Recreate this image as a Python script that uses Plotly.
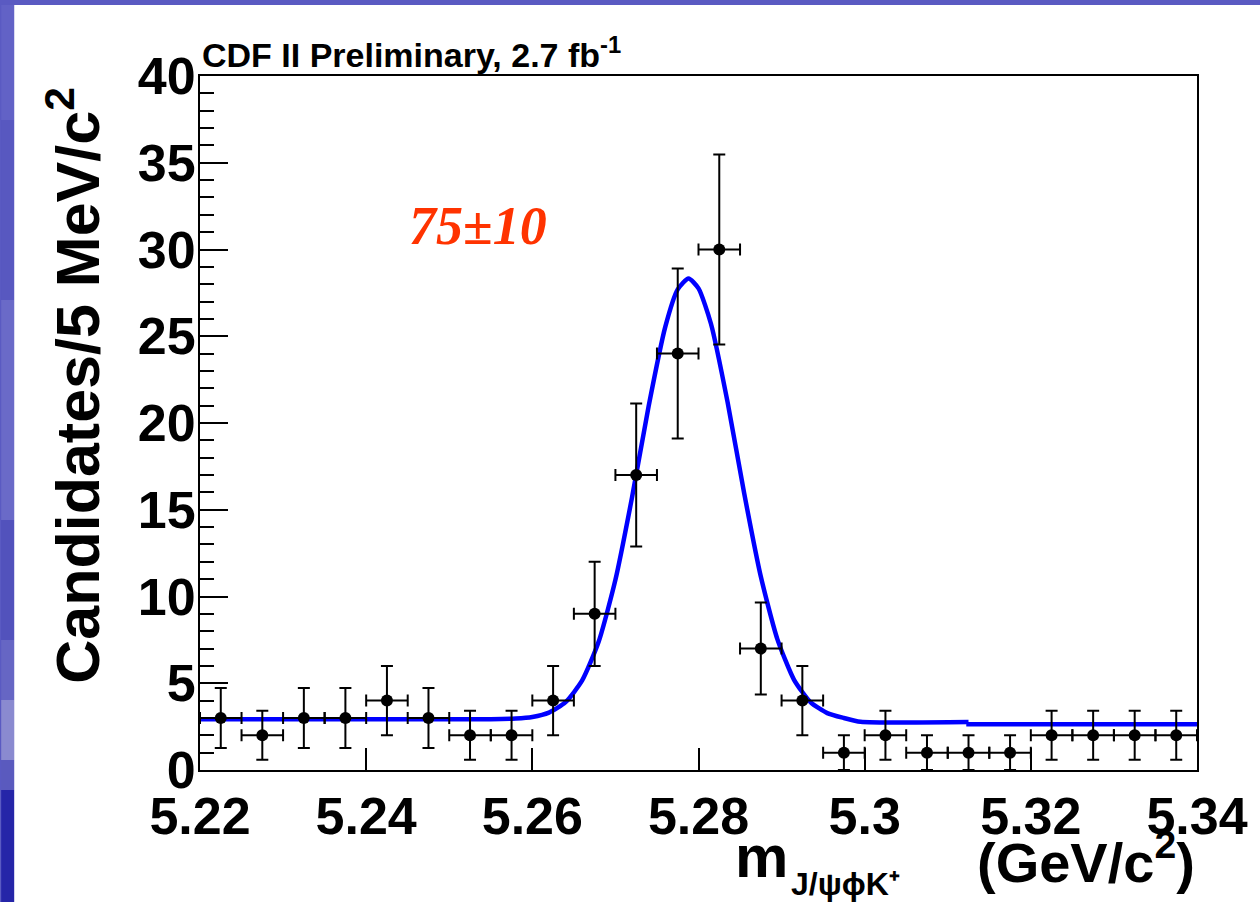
import plotly.graph_objects as go

# ---- data ----
mass = [5.2225, 5.2275, 5.2325, 5.2375, 5.2425, 5.2475, 5.2525, 5.2575,
        5.2625, 5.2675, 5.2725, 5.2775, 5.2825, 5.2875, 5.2925, 5.2975,
        5.3025, 5.3075, 5.3125, 5.3175, 5.3225, 5.3275, 5.3325, 5.3375]
counts = [3, 2, 3, 3, 4, 3, 2, 2, 4, 9, 17, 24, 30, 7, 4, 1, 2, 1, 1, 1, 2, 2, 2, 2]
count_err = [1.73, 1.41, 1.73, 1.73, 2.0, 1.73, 1.41, 1.41, 2.0, 3.0, 4.12, 4.9,
             5.48, 2.65, 2.0, 1.0, 1.41, 1.0, 1.0, 1.0, 1.41, 1.41, 1.41, 1.41]
bin_halfwidth = [0.0025] * 24

fit_x = [5.22, 5.255, 5.258, 5.260, 5.262, 5.264, 5.266, 5.268, 5.270, 5.272,
         5.274, 5.276, 5.2775, 5.2788, 5.2800, 5.2815, 5.2835, 5.2855, 5.2875,
         5.2895, 5.2915, 5.2935, 5.2955, 5.2975, 5.2995, 5.3125]
fit_y = [2.93, 2.93, 2.97, 3.06, 3.31, 3.91, 5.16, 7.42, 10.96, 15.71,
         20.97, 25.54, 27.7, 28.33, 27.76, 25.72, 21.2, 15.94, 11.15,
         7.53, 5.2, 3.9, 3.28, 3.0, 2.78, 2.76]
tail_x = [5.3125, 5.3125, 5.34]
tail_y = [2.76, 2.64, 2.64]

x_ticks = [5.22, 5.24, 5.26, 5.28, 5.30, 5.32, 5.34]
x_ticktext = ["5.22", "5.24", "5.26", "5.28", "5.3", "5.32", "5.34"]
y_ticks = [0, 5, 10, 15, 20, 25, 30, 35, 40]

SANS = "Liberation Sans, Arial, Helvetica, sans-serif"

fig = go.Figure()
fig.add_trace(go.Scatter(x=fit_x, y=fit_y, mode="lines",
                         line=dict(color="#0000ff", width=4.5, shape="spline", smoothing=0.6),
                         showlegend=False, hoverinfo="skip"))
fig.add_trace(go.Scatter(x=tail_x, y=tail_y, mode="lines",
                         line=dict(color="#0000ff", width=4.5),
                         showlegend=False, hoverinfo="skip"))
fig.add_trace(go.Scatter(
    x=mass, y=counts, mode="markers",
    marker=dict(color="black", size=12),
    error_y=dict(type="data", array=count_err, color="black", thickness=2, width=6),
    error_x=dict(type="data", array=bin_halfwidth, color="black", thickness=2, width=6),
    showlegend=False))

W, H = 1260, 902
L, R, T, B = 200, 57, 76, 132
pw, ph = W - L - R, H - T - B

def px(xp):
    return (xp - L) / pw

def py(yp):
    return (H - B - yp) / ph

shapes = [
    dict(type="rect", xref="paper", yref="paper", x0=px(13), x1=px(1270),
         y0=py(910), y1=py(5), fillcolor="white", line=dict(width=0), layer="below"),
]
# left slide strip shading
strip = [(5, 120, "#6262c6"), (120, 300, "#5858c0"), (300, 520, "#6a6ac8"),
         (520, 640, "#5252bc"), (640, 700, "#6666c4"), (700, 760, "#8a8ad0"),
         (760, 790, "#5a5abe"), (790, 902, "#2525a8")]
for y0, y1, c in strip:
    shapes.append(dict(type="rect", xref="paper", yref="paper", x0=px(0), x1=px(13),
                       y0=py(y1), y1=py(y0), fillcolor=c, line=dict(width=0), layer="below"))

annotations = [
    dict(text="CDF II Preliminary, 2.7 fb<sup>-1</sup>", xref="paper", yref="paper",
         x=0, y=1, xanchor="left", yanchor="bottom", showarrow=False,
         font=dict(family=SANS, size=34, color="black", weight="bold")),
    dict(text="Candidates/5 MeV/c<sup>2</sup>", xref="paper", yref="paper",
         x=px(73), y=py(385), xanchor="center", yanchor="middle", textangle=-90,
         showarrow=False, font=dict(family=SANS, size=61, color="black", weight="bold")),
    dict(text="m", xref="paper", yref="paper", x=px(765), y=py(856),
         xanchor="center", yanchor="middle", showarrow=False,
         font=dict(family=SANS, size=60, color="black", weight="bold")),
    dict(text="J/ψϕK⁺", xref="paper", yref="paper", x=px(793), y=py(884),
         xanchor="left", yanchor="middle", showarrow=False,
         font=dict(family=SANS, size=32, color="black", weight="bold")),
    dict(text="(GeV/c<sup>2</sup>)", xref="paper", yref="paper", x=px(1203), y=py(858),
         xanchor="right", yanchor="middle", showarrow=False,
         font=dict(family=SANS, size=56, color="black", weight="bold")),
    dict(text="75±10", xref="paper", yref="paper", x=px(480), y=py(226),
         xanchor="center", yanchor="middle", showarrow=False,
         font=dict(family="Liberation Serif, Times New Roman, serif", size=54,
                   color="#ff3300", weight="bold", style="italic")),
]

fig.update_layout(
    width=W, height=H,
    margin=dict(l=L, r=R, t=T, b=B, pad=0),
    paper_bgcolor="#5a5ac2", plot_bgcolor="white",
    shapes=shapes, annotations=annotations,
    xaxis=dict(range=[5.22, 5.34], tickvals=x_ticks, ticktext=x_ticktext,
               ticks="inside", ticklen=22, tickwidth=2, tickcolor="black",
               showline=True, linecolor="black", linewidth=2, mirror=True,
               showgrid=False, zeroline=False,
               tickfont=dict(family=SANS, size=52, color="black", weight="bold")),
    yaxis=dict(range=[0, 40], tickvals=y_ticks,
               ticks="inside", ticklen=28, tickwidth=2, tickcolor="black",
               minor=dict(dtick=1, ticks="inside", ticklen=14, tickwidth=2, tickcolor="black"),
               showline=True, linecolor="black", linewidth=2, mirror=True,
               showgrid=False, zeroline=False,
               tickfont=dict(family=SANS, size=52, color="black", weight="bold"),
               ticklabelstandoff=-8),
)

fig.write_html("out.html")
